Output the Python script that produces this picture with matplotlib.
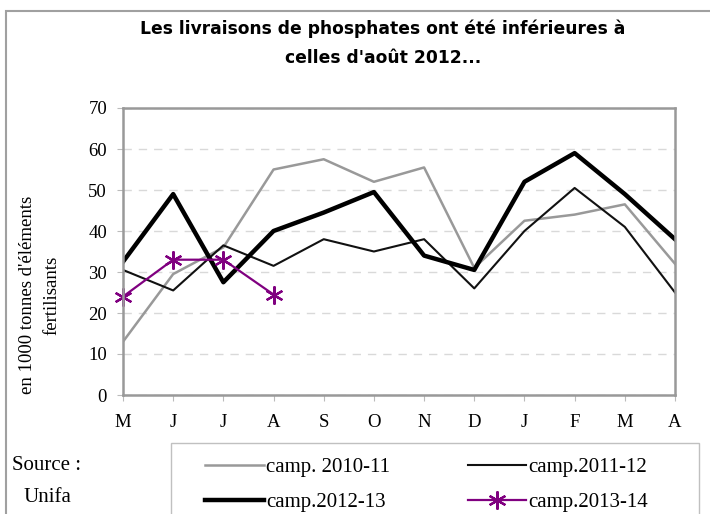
import matplotlib.pyplot as plt
from matplotlib.patches import Rectangle

# données
mois = ['M', 'J', 'J', 'A', 'S', 'O', 'N', 'D', 'J', 'F', 'M', 'A']
camp_2010_11 = [13, 29.5, 36, 55, 57.5, 52, 55.5, 31, 42.5, 44, 46.5, 32]
camp_2011_12 = [30.5, 25.5, 36.5, 31.5, 38, 35, 38, 26, 40, 50.5, 41, 25]
camp_2012_13 = [32.5, 49, 27.5, 40, 44.5, 49.5, 34, 30.5, 52, 59, 49, 38]
camp_2013_14 = [24, 33, 33, 24.5]
labels = ['camp. 2010-11', 'camp.2011-12', 'camp.2012-13', 'camp.2013-14']

serif = 'Liberation Serif'
W, H = 710, 514

fig = plt.figure(figsize=(7.10, 5.14), dpi=100)
ax = fig.add_axes([123 / W, 1 - 395 / H, 552 / W, 287 / H])

x = list(range(len(mois)))
l1, = ax.plot(x, camp_2010_11, color='#999999', lw=1.8)
l2, = ax.plot(x, camp_2011_12, color='#111111', lw=1.5)
l3, = ax.plot(x, camp_2012_13, color='black', lw=3.2)
l4, = ax.plot(x[:len(camp_2013_14)], camp_2013_14, color='#800080', lw=1.6,
              marker=(6, 2, 0), markersize=13, markeredgewidth=1.6, clip_on=False)

ax.set_xlim(0, 11)
ax.set_ylim(0, 70)
ax.set_yticks(range(0, 71, 10))
ax.set_xticks(x)
ax.set_xticklabels(mois)
for t in ax.get_xticklabels() + ax.get_yticklabels():
    t.set_fontfamily(serif)
    t.set_fontsize(13.5)
ax.tick_params(axis='x', length=4.5, color='#bbbbbb', pad=9)
ax.tick_params(axis='y', length=4.5, color='#bbbbbb', pad=7)
for s in ax.spines.values():
    s.set_color('#999999')
    s.set_linewidth(1.8)
ax.yaxis.grid(True, color='#d9d9d9', ls=(0, (6, 5)), lw=1)
ax.set_axisbelow(True)

# titre de l'axe y
fig.text(40 / W, 1 - 295 / H, "en 1000 tonnes d'éléments\nfertilisants", rotation=90,
         ha='center', va='center', multialignment='center', family=serif,
         fontsize=13.5, linespacing=1.6)

# titre
fig.text(383 / W, 1 - 29 / H, "Les livraisons de phosphates ont été inférieures à",
         ha='center', va='center', family='DejaVu Sans', fontsize=12.3, fontweight='bold')
fig.text(383 / W, 1 - 58 / H, "celles d'août 2012...",
         ha='center', va='center', family='DejaVu Sans', fontsize=12.3, fontweight='bold')

fig.text(12 / W, 1 - 465 / H, 'Source :', family=serif, fontsize=15, va='center')
fig.text(23 / W, 1 - 498 / H, 'Unifa', family=serif, fontsize=15, va='center')

# légende (ordre par lignes)
leg = fig.legend([l1, l3, l2, l4], [labels[0], labels[2], labels[1], labels[3]],
                 loc='upper left', bbox_to_anchor=(195 / W, 1 - 447 / H), ncol=2,
                 frameon=False, prop={'family': serif, 'size': 15},
                 handlelength=2.8, handletextpad=0.1, columnspacing=3.75,
                 borderpad=0, labelspacing=0.75)

fig.patches.append(Rectangle((171 / W, -0.05), 528 / W, 1 - 443 / H + 0.05,
                             transform=fig.transFigure, fill=False,
                             edgecolor='#c0c0c0', lw=1))
fig.patches.append(Rectangle((6 / W, -0.05), 1.1, 1 - 11 / H + 0.05,
                             transform=fig.transFigure, fill=False,
                             edgecolor='#a0a0a0', lw=1.5))

plt.savefig('out.png', dpi=100)
